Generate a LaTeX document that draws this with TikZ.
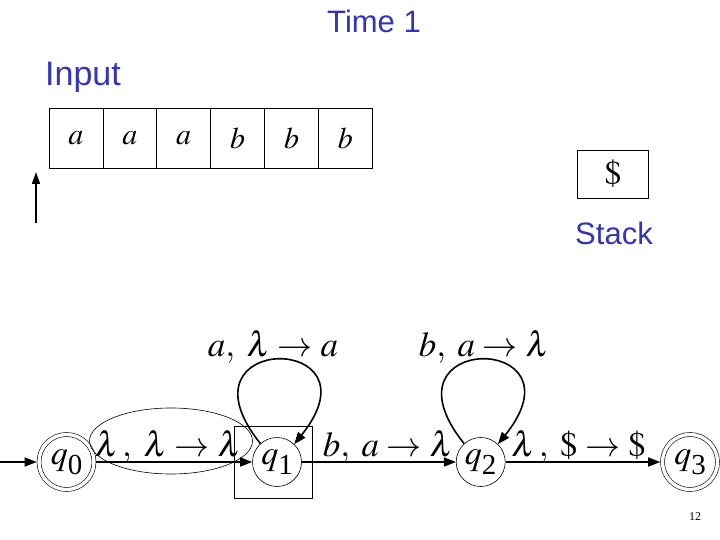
\documentclass[tikz,border=0pt]{standalone}
\usepackage{mathptmx}
\usepackage{fontspec}
\setmainfont{Liberation Serif}
\newfontfamily\bluefont{Liberation Sans}
\usetikzlibrary{arrows.meta,shapes.geometric}
\definecolor{tblue}{RGB}{51,51,187}
\newcommand{\qlab}[1]{$q$\raisebox{-10pt}{\fontsize{29}{30}\selectfont #1}}
\tikzset{
  bluetext/.style={text=tblue,font=\bluefont\fontsize{31}{34}\selectfont,inner sep=0pt},
  cell/.style={draw,line width=0.7pt,minimum width=53.9pt,minimum height=60pt,inner sep=0pt,font=\fontsize{30}{32}\selectfont},
  state/.style={circle,draw,line width=0.6pt,minimum size=49pt,inner sep=0pt,font=\fontsize{34}{36}\selectfont},
  final/.style={state,minimum size=55pt,double,double distance=3.4pt,outer sep=2.3pt},
  edge/.style={line width=1.6pt,-{Triangle[length=12pt,width=9pt]}},
  lab/.style={anchor=base,inner sep=0pt,font=\fontsize{35}{38}\selectfont},
}
\begin{document}
\begin{tikzpicture}[x=1pt,y=-1pt]
\useasboundingbox (0,0) rectangle (720,540);
% titles
\node[bluetext] (time) at (374,21) {Time 1};
\node[bluetext,font=\bluefont\fontsize{34}{36}\selectfont] (input) at (83,77) {Input};
\node[bluetext] (stacklbl) at (614,233) {Stack};
% tape
\node[cell] (c1) at (75.9,138) {$a$};
\node[cell] (c2) at (129.8,138) {$a$};
\node[cell] (c3) at (183.7,138) {$a$};
\node[cell] (c4) at (237.6,138) {$b$};
\node[cell] (c5) at (291.5,138) {$b$};
\node[cell] (c6) at (345.4,138) {$b$};
% head arrow
\coordinate (hb) at (36,223);
\coordinate (ht) at (36,172);
\draw[line width=1.6pt,-{Triangle[length=12pt,width=8pt]}] (hb) -- (ht);
% stack
\node[draw,line width=0.7pt,minimum width=71pt,minimum height=48pt,inner sep=0pt,font=\fontsize{34}{36}\selectfont] (st) at (613,174) {$\$$};
% automaton
\node[final] (q0) at (66.5,462) {\qlab{0}};
\node[state] (q1) at (277,462) {\qlab{1}};
\node[state] (q2) at (480.7,462) {\qlab{2}};
\node[final] (q3) at (690,462) {\qlab{3}};
\draw[line width=0.6pt] (171,441) ellipse [x radius=81.5, y radius=33];
\draw[line width=0.6pt] (234.6,426) rectangle (312.6,498);
\coordinate (start) at (0,462);
\draw[edge] (start) -- (q0);
\draw[edge] (q0) -- (q1);
\draw[edge] (q1) -- (q2);
\draw[edge] (q2) -- (q3);
\draw[edge] (q1.132) .. controls +(-90,-112) and +(90,-112) .. (q1.46);
\draw[edge] (q2.132) .. controls +(-90,-112) and +(90,-112) .. (q2.46);
% labels
\node[lab] (l01) at (168,456) {$\lambda\mkern2mu,\;\lambda\rightarrow\lambda$};
\node[lab] (l12) at (388,456) {$b,\;a\rightarrow\lambda$};
\node[lab] (l23) at (578.6,456) {$\lambda\mkern2mu,\;\$\rightarrow\$$};
\node[lab] (l11) at (273,356) {$a,\;\lambda\rightarrow a$};
\node[lab] (l22) at (484,356) {$b,\;a\rightarrow\lambda$};
\node[font=\fontsize{12}{14}\selectfont,inner sep=0pt] (pg) at (695,517) {12};
\end{tikzpicture}
\end{document}
